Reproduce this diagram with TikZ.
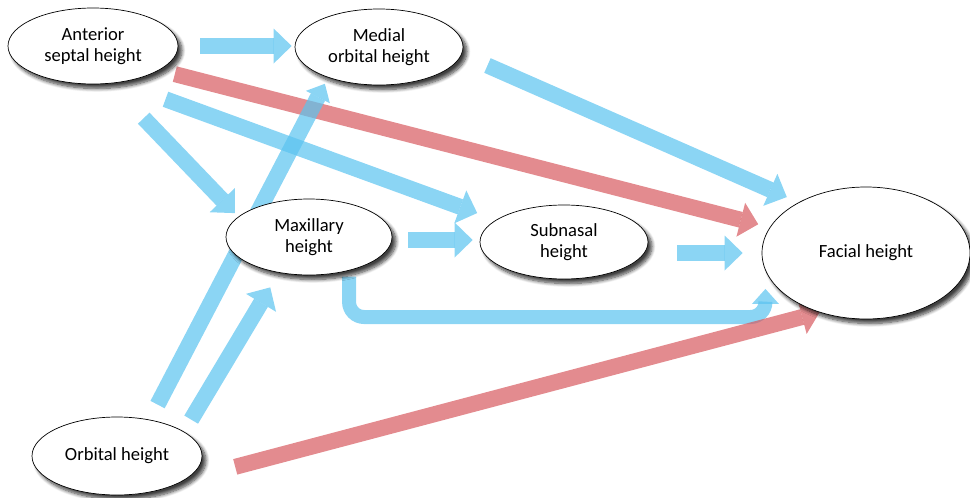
\documentclass[tikz,border=0pt]{standalone}
\usepackage{fontspec}
\setmainfont{Carlito}
\usetikzlibrary{arrows.meta,shapes.geometric,shadows.blur,calc}
\pgfdeclarelayer{bg}
\pgfsetlayers{bg,main}
\definecolor{fblue}{RGB}{90,195,240}
\definecolor{fred}{RGB}{215,90,95}
\tikzset{
  box/.style={ellipse, draw=black, line width=0.7pt, fill=white, inner sep=0pt,
    align=center, font=\fontsize{18.6}{21}\selectfont,
    blur shadow={shadow xshift=4pt, shadow yshift=-4.5pt, shadow blur radius=3.5pt,
      shadow blur steps=8, shadow opacity=75}},
  conn/.style={line width=16pt, opacity=0.7,
    -{Triangle[width=35pt,length=18pt,line width=0pt]}},
  smallhead/.style={-{Triangle[width=27pt,length=15pt,line width=0pt]}},
  bl/.style={conn, color=fblue},
  rd/.style={conn, color=fred}
}
\begin{document}
\begin{tikzpicture}[x=1pt,y=-1pt]
\useasboundingbox (0,0) rectangle (970,498);
\node[box, minimum width=170pt, minimum height=76pt] (ant) at (93,46) {Anterior\\septal height};
\node[box, minimum width=168pt, minimum height=76pt] (med) at (379,47) {Medial\\orbital height};
\node[box, minimum width=166pt, minimum height=76pt] (max) at (309,237) {Maxillary\\height};
\node[box, minimum width=168pt, minimum height=74pt] (sub) at (564,242) {Subnasal\\height};
\node[box, minimum width=208pt, minimum height=132pt] (fac) at (866,253) {Facial height};
\node[box, minimum width=170pt, minimum height=78pt] (orb) at (117,456) {Orbital height};
\coordinate (mf) at (560,317);
\begin{pgfonlayer}{bg}
\draw[bl, shorten <=22pt, shorten >=3pt] (ant.east) -- (ant.east -| med.west);
\draw[bl, shorten <=48pt, shorten >=5pt] (ant.-65) -- (max.164);
\draw[bl, shorten <=49pt, shorten >=20pt] (ant.-54) -- (sub.162);
\draw[rd, shorten <=16pt, shorten >=12pt] (ant.-20) -- (fac.165);
\draw[bl, smallhead, shorten <=17pt, shorten >=7pt] (orb.48) -- (med.-149);
\draw[bl, shorten <=14pt, shorten >=17pt] (orb.20) -- (max.-130);
\draw[bl, shorten <=16pt, shorten >=7pt] ([yshift=-3pt]max.east) -- ([yshift=-3pt]max.east -| sub.west);
\draw[bl, shorten <=29pt, shorten >=19pt] (sub.east |- fac.west) -- (fac.west);
\draw[bl, shorten <=28pt, shorten >=13pt] (med.-5) -- (fac.143);
\draw[bl, smallhead, line width=14pt, rounded corners=15pt, shorten <=6pt, shorten >=3pt]
  (max.-40) |- (mf) -| ([xshift=-10pt]fac.-160);
\draw[rd, shorten <=53pt, shorten >=0pt] (orb.-20) -- (fac.-128);
\end{pgfonlayer}
\end{tikzpicture}
\end{document}
